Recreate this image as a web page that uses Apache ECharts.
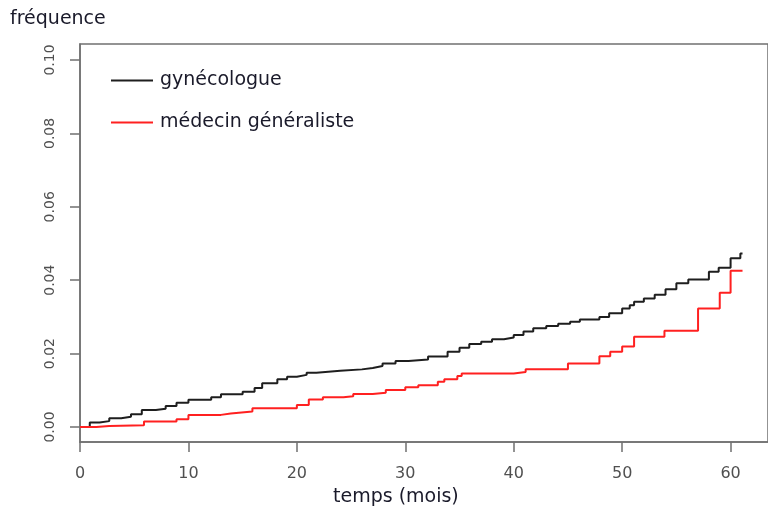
<!DOCTYPE html>
<html>
<head>
<meta charset="utf-8">
<script src="https://cdn.jsdelivr.net/npm/echarts@6/dist/echarts.min.js"></script>
<style>html,body{margin:0;padding:0;background:#fff;}#chart{width:768px;height:519px;}</style>
</head>
<body>
<div id="chart"></div>
<script>
// Series names
const seriesNames = ['gynécologue', 'médecin généraliste'];
// gynécologue: step times (months) and cumulative frequency
const gynTimes = [0, 0.9, 1.8, 2.7, 3.8, 4.7, 5.7, 7.0, 7.9, 8.9, 10.0, 12.1, 13.0, 15.0, 16.1, 16.8, 18.2, 19.1, 20.0, 20.9, 21.8, 24.0, 26.0, 27.0, 27.9, 29.1, 30.3, 32.1, 33.9, 35.0, 35.9, 37.0, 38.0, 39.1, 40.0, 40.9, 41.8, 43.0, 44.1, 45.2, 46.1, 47.9, 48.8, 50.0, 50.7, 51.1, 52.0, 53.0, 54.0, 55.0, 56.1, 58.0, 58.9, 60.0, 60.9, 61.1];
const gynValues = [0, 0.0012, 0.0016, 0.0024, 0.0028, 0.0035, 0.0046, 0.0050, 0.0057, 0.0066, 0.0074, 0.0081, 0.0089, 0.0096, 0.0106, 0.0119, 0.0130, 0.0137, 0.0142, 0.0148, 0.0153, 0.0157, 0.0161, 0.0166, 0.0173, 0.0180, 0.0184, 0.0192, 0.0205, 0.0216, 0.0226, 0.0232, 0.0239, 0.0244, 0.0251, 0.0260, 0.0269, 0.0275, 0.0281, 0.0287, 0.0293, 0.0300, 0.0310, 0.0323, 0.0332, 0.0341, 0.0350, 0.0360, 0.0375, 0.0392, 0.0402, 0.0423, 0.0434, 0.0460, 0.0473, 0.0473];
// médecin généraliste
const mgTimes = [0, 1.5, 2.7, 5.9, 8.9, 10.0, 13.0, 13.9, 15.9, 20.0, 21.1, 22.4, 24.3, 25.2, 27.0, 28.2, 30.0, 31.2, 33.0, 33.6, 34.8, 35.2, 40.0, 41.1, 45.0, 47.9, 48.9, 50.0, 51.1, 53.9, 57.0, 59.0, 60.0, 61.1];
const mgValues = [0, 0.0003, 0.0005, 0.0015, 0.0021, 0.0033, 0.0037, 0.0042, 0.0051, 0.0060, 0.0075, 0.0081, 0.0084, 0.0090, 0.0093, 0.0101, 0.0108, 0.0114, 0.0123, 0.0130, 0.0139, 0.0146, 0.0150, 0.0157, 0.0173, 0.0193, 0.0205, 0.0219, 0.0246, 0.0262, 0.0323, 0.0366, 0.0426, 0.0426];
// Tick labels
const xTicks = [0, 10, 20, 30, 40, 50, 60];
const yTicks = [0, 0.02, 0.04, 0.06, 0.08, 0.10];
const xTitle = 'temps (mois)';
const yTitle = 'fréquence';

const pair = (ts, vs) => ts.map((t, i) => [t, vs[i]]);
const axisColor = '#707070';
const labelColor = '#505050';
const fontFam = '"DejaVu Sans", "Liberation Sans", sans-serif';

const chart = echarts.init(document.getElementById('chart'), null, {renderer: 'canvas'});
chart.setOption({
  animation: false,
  backgroundColor: '#ffffff',
  grid: {
    left: 80, top: 44, right: -10, bottom: 77,
    show: true, borderColor: axisColor, borderWidth: 1.5
  },
  legend: {
    orient: 'vertical',
    left: 106, top: 66,
    itemGap: 23,
    itemWidth: 42, itemHeight: 2,
    icon: 'rect',
    textStyle: {fontFamily: fontFam, fontSize: 19, color: '#1a1a2a', padding: [0, 0, 0, 2]},
    data: seriesNames
  },
  xAxis: {
    type: 'value', min: 0, max: 63.45,
    axisLine: {show: true, onZero: false, lineStyle: {color: axisColor, width: 1.5}},
    axisTick: {show: true, length: 10, inside: false, customValues: xTicks, lineStyle: {color: axisColor, width: 1.5}},
    axisLabel: {customValues: xTicks, margin: 24, fontFamily: fontFam, fontSize: 16, color: labelColor},
    splitLine: {show: false}
  },
  yAxis: {
    type: 'value', min: -0.00409, max: 0.10436,
    axisLine: {show: true, onZero: false, lineStyle: {color: axisColor, width: 1.5}},
    axisTick: {show: true, length: 10, inside: false, customValues: yTicks, lineStyle: {color: axisColor, width: 1.5}},
    axisLabel: {customValues: yTicks, rotate: 90, margin: 23, fontFamily: fontFam, fontSize: 14, color: labelColor,
      formatter: v => v.toFixed(2)},
    splitLine: {show: false}
  },
  graphic: [
    {type: 'text', left: 10, top: 10, style: {text: yTitle, font: '19px ' + fontFam, fill: '#1a1a2a'}},
    {type: 'text', left: 333, top: 488, style: {text: xTitle, font: '19px ' + fontFam, fill: '#1a1a2a'}}
  ],
  series: [
    {name: seriesNames[0], type: 'line', step: 'end', symbol: 'none', data: pair(gynTimes, gynValues),
      lineStyle: {color: '#1e1e1e', width: 2}, itemStyle: {color: '#1e1e1e'}},
    {name: seriesNames[1], type: 'line', step: 'end', symbol: 'none', data: pair(mgTimes, mgValues),
      lineStyle: {color: '#ff2020', width: 2}, itemStyle: {color: '#ff2020'}}
  ]
});
</script>
</body>
</html>
